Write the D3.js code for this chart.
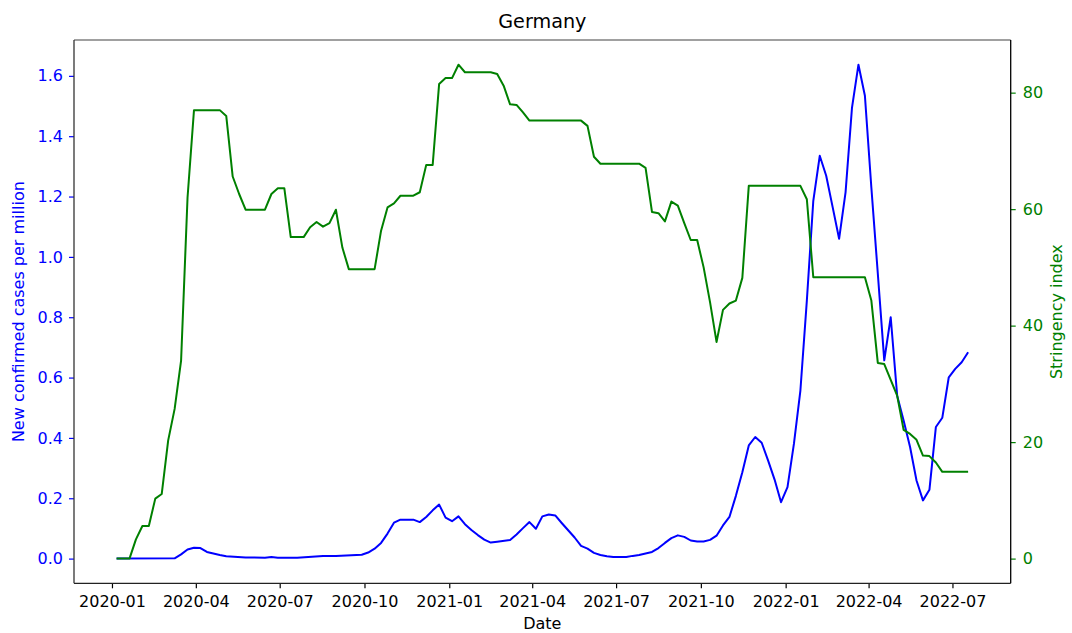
<!DOCTYPE html>
<html>
<head>
<meta charset="utf-8">
<script src="https://cdn.jsdelivr.net/npm/d3@7"></script>
<style>
  html, body { margin: 0; padding: 0; background: #fff; }
  svg { display: block; font-family: "DejaVu Sans", sans-serif; }
</style>
</head>
<body>
<svg id="chart" width="1072" height="633"></svg>
<script>
// ---- Data ----
const chartTitle = "Germany";
const xLabel = "Date";
const leftLabel = "New confirmed cases per million";
const rightLabel = "Stringency index";

const casesDates = [
  "2020-01-06","2020-03-09","2020-03-16","2020-03-23","2020-03-30","2020-04-06","2020-04-13","2020-04-27",
  "2020-05-04","2020-05-25","2020-06-15","2020-06-22","2020-06-29","2020-07-20","2020-08-17","2020-08-31",
  "2020-09-28","2020-10-05","2020-10-12","2020-10-19","2020-10-26","2020-11-02","2020-11-09","2020-11-23",
  "2020-11-30","2020-12-07","2020-12-14","2020-12-21","2020-12-28","2021-01-04","2021-01-11","2021-01-18",
  "2021-01-25","2021-02-01","2021-02-08","2021-02-15","2021-02-22","2021-03-08","2021-03-15","2021-03-22",
  "2021-03-29","2021-04-05","2021-04-12","2021-04-19","2021-04-26","2021-05-03","2021-05-10","2021-05-17",
  "2021-05-24","2021-05-31","2021-06-07","2021-06-14","2021-06-21","2021-06-28","2021-07-12","2021-07-19",
  "2021-07-26","2021-08-02","2021-08-09","2021-08-16","2021-08-23","2021-08-30","2021-09-06","2021-09-13",
  "2021-09-20","2021-09-27","2021-10-04","2021-10-11","2021-10-18","2021-10-25","2021-11-01","2021-11-08",
  "2021-11-15","2021-11-22","2021-11-29","2021-12-06","2021-12-13","2021-12-20","2021-12-27","2022-01-03",
  "2022-01-10","2022-01-17","2022-01-24","2022-01-31","2022-02-07","2022-02-14","2022-02-21","2022-02-28",
  "2022-03-07","2022-03-14","2022-03-21","2022-03-28","2022-04-04","2022-04-11","2022-04-18","2022-04-25",
  "2022-05-02","2022-05-09","2022-05-16","2022-05-23","2022-05-30","2022-06-06","2022-06-13","2022-06-20",
  "2022-06-27","2022-07-04","2022-07-11","2022-07-18"
];
const casesValues = [
  0.000,0.001,0.014,0.030,0.036,0.035,0.022,0.012,
  0.008,0.004,0.003,0.005,0.003,0.003,0.009,0.009,
  0.013,0.020,0.033,0.052,0.083,0.119,0.129,0.129,
  0.121,0.138,0.160,0.179,0.136,0.124,0.140,0.114,
  0.095,0.078,0.063,0.053,0.056,0.062,0.080,0.101,
  0.121,0.099,0.140,0.146,0.143,0.118,0.094,0.070,
  0.042,0.033,0.019,0.012,0.008,0.005,0.005,0.009,
  0.012,0.017,0.022,0.035,0.052,0.068,0.077,0.072,
  0.060,0.057,0.057,0.062,0.076,0.110,0.138,0.208,
  0.286,0.375,0.403,0.384,0.325,0.262,0.187,0.237,
  0.381,0.557,0.855,1.186,1.335,1.269,1.165,1.060,
  1.214,1.495,1.637,1.534,1.230,0.945,0.657,0.800,
  0.540,0.458,0.370,0.259,0.193,0.228,0.436,0.467,
  0.601,0.629,0.651,0.684
];

const stringencyDates = [
  "2020-01-06","2020-01-20","2020-01-27","2020-02-03","2020-02-10","2020-02-17","2020-02-24","2020-03-02",
  "2020-03-09","2020-03-16","2020-03-23","2020-03-30","2020-04-27","2020-05-04","2020-05-11","2020-05-18",
  "2020-05-25","2020-06-15","2020-06-22","2020-06-29","2020-07-06","2020-07-13","2020-07-27","2020-08-03",
  "2020-08-10","2020-08-17","2020-08-24","2020-08-31","2020-09-07","2020-09-14","2020-10-12","2020-10-19",
  "2020-10-26","2020-11-02","2020-11-09","2020-11-23","2020-11-30","2020-12-07","2020-12-14","2020-12-21",
  "2020-12-28","2021-01-04","2021-01-11","2021-01-18","2021-02-15","2021-02-22","2021-03-01","2021-03-08",
  "2021-03-15","2021-03-22","2021-03-29","2021-05-24","2021-05-31","2021-06-07","2021-06-14","2021-07-26",
  "2021-08-02","2021-08-09","2021-08-16","2021-08-23","2021-08-30","2021-09-06","2021-09-13","2021-09-20",
  "2021-09-27","2021-10-04","2021-10-11","2021-10-18","2021-10-25","2021-11-01","2021-11-08","2021-11-15",
  "2021-11-22","2022-01-17","2022-01-24","2022-01-31","2022-03-28","2022-04-04","2022-04-11","2022-04-18",
  "2022-05-02","2022-05-09","2022-05-16","2022-05-23","2022-05-30","2022-06-06","2022-06-13","2022-06-20",
  "2022-07-18"
];
const stringencyValues = [
  0,0,3.3,5.6,5.6,10.3,11.1,20.3,
  25.7,34.0,62.0,77.0,77.0,76.0,65.6,62.6,
  59.9,59.9,62.6,63.6,63.6,55.2,55.2,56.9,
  57.8,57.0,57.6,59.9,53.4,49.7,49.7,56.3,
  60.3,61.0,62.3,62.3,62.9,67.6,67.6,81.5,
  82.5,82.5,84.8,83.5,83.5,83.2,81.2,78.0,
  77.9,76.6,75.2,75.2,74.3,69.0,67.8,67.8,
  67.1,59.5,59.3,57.9,61.3,60.6,57.6,54.7,
  54.7,50.0,44.0,37.2,42.7,43.8,44.3,48.2,
  64.0,64.0,61.7,48.3,48.3,44.3,33.6,33.4,
  28.0,22.1,21.4,20.4,17.7,17.6,16.5,14.9,
  14.9
];

const xTickLabels = ["2020-01","2020-04","2020-07","2020-10","2021-01","2021-04","2021-07","2021-10","2022-01","2022-04","2022-07"];
const leftTicks = [0.0,0.2,0.4,0.6,0.8,1.0,1.2,1.4,1.6];
const rightTicks = [0,20,40,60,80];

// ---- Layout ----
const W = 1072, H = 633;
const m = { left: 74, right: 61.3, top: 40, bottom: 49.7 };
const pw = W - m.left - m.right, ph = H - m.top - m.bottom;
const BLUE = "#0000ff", GREEN = "#008000";

const parse = d3.utcParse("%Y-%m-%d");
const parseMonth = d3.utcParse("%Y-%m");
const cases = casesDates.map((d, i) => ({ date: parse(d), v: casesValues[i] }));
const stringency = stringencyDates.map((d, i) => ({ date: parse(d), v: stringencyValues[i] }));

function padded(lo, hi) { const r = hi - lo; return [lo - 0.05 * r, hi + 0.05 * r]; }
const allDates = cases.map(d => +d.date).concat(stringency.map(d => +d.date));
const [x0, x1] = padded(d3.min(allDates), d3.max(allDates));
const x = d3.scaleUtc().domain([new Date(x0), new Date(x1)]).range([0, pw]);
const yL = d3.scaleLinear().domain(padded(d3.min(casesValues), d3.max(casesValues))).range([ph, 0]);
const yR = d3.scaleLinear().domain(padded(d3.min(stringencyValues), d3.max(stringencyValues))).range([ph, 0]);

const svg = d3.select("#chart");
const g = svg.append("g").attr("transform", `translate(${m.left},${m.top})`);

// Lines
const lineL = d3.line().x(d => x(d.date)).y(d => yL(d.v));
const lineR = d3.line().x(d => x(d.date)).y(d => yR(d.v));
g.append("path").datum(cases).attr("d", lineL)
  .attr("fill", "none").attr("stroke", BLUE).attr("stroke-width", 2).attr("stroke-linejoin", "round");
g.append("path").datum(stringency).attr("d", lineR)
  .attr("fill", "none").attr("stroke", GREEN).attr("stroke-width", 2).attr("stroke-linejoin", "round");

// Axes
const fs = 16;
const xAxis = d3.axisBottom(x).tickValues(xTickLabels.map(parseMonth))
  .tickFormat(d3.utcFormat("%Y-%m")).tickSize(5).tickSizeOuter(0).tickPadding(7);
const gx = g.append("g").attr("transform", `translate(0,${ph})`).call(xAxis);
gx.select(".domain").remove();
gx.selectAll("line").attr("stroke", "#000").attr("stroke-width", 1.2);
gx.selectAll("text").attr("fill", "#000").style("font-size", fs + "px").style("font-family", "DejaVu Sans");

const yAxisL = d3.axisLeft(yL).tickValues(leftTicks).tickFormat(d3.format(".1f"))
  .tickSize(5).tickSizeOuter(0).tickPadding(6);
const gyl = g.append("g").call(yAxisL);
gyl.select(".domain").remove();
gyl.selectAll("line").attr("stroke", BLUE).attr("stroke-width", 1.2);
gyl.selectAll("text").attr("fill", BLUE).style("font-size", fs + "px").style("font-family", "DejaVu Sans");

const yAxisR = d3.axisRight(yR).tickValues(rightTicks).tickFormat(d3.format("d"))
  .tickSize(5).tickSizeOuter(0).tickPadding(7);
const gyr = g.append("g").attr("transform", `translate(${pw},0)`).call(yAxisR);
gyr.select(".domain").remove();
gyr.selectAll("line").attr("stroke", GREEN).attr("stroke-width", 1.2);
gyr.selectAll("text").attr("fill", GREEN).style("font-size", fs + "px").style("font-family", "DejaVu Sans");

// Spines
g.append("line").attr("x1", 0).attr("x2", pw).attr("y1", 0).attr("y2", 0).attr("stroke", "#808080").attr("stroke-width", 1.3);
g.append("line").attr("x1", 0).attr("x2", pw).attr("y1", ph).attr("y2", ph).attr("stroke", "#222").attr("stroke-width", 1.3);
g.append("line").attr("x1", 0).attr("x2", 0).attr("y1", 0).attr("y2", ph).attr("stroke", "#333").attr("stroke-width", 1.3);
g.append("line").attr("x1", pw).attr("x2", pw).attr("y1", 0).attr("y2", ph).attr("stroke", "#000").attr("stroke-width", 1.3);

// Labels
svg.append("text").attr("x", m.left + pw / 2).attr("y", 28).attr("text-anchor", "middle")
  .style("font-size", "19.2px").attr("fill", "#000").text(chartTitle);
svg.append("text").attr("x", m.left + pw / 2).attr("y", 629).attr("text-anchor", "middle")
  .style("font-size", fs + "px").attr("fill", "#000").text(xLabel);
svg.append("text").attr("transform", `translate(24,${m.top + ph / 2}) rotate(-90)`).attr("text-anchor", "middle")
  .style("font-size", fs + "px").attr("fill", BLUE).text(leftLabel);
svg.append("text").attr("transform", `translate(1062,${m.top + ph / 2}) rotate(-90)`).attr("text-anchor", "middle")
  .style("font-size", fs + "px").attr("fill", GREEN).text(rightLabel);
</script>
</body>
</html>
